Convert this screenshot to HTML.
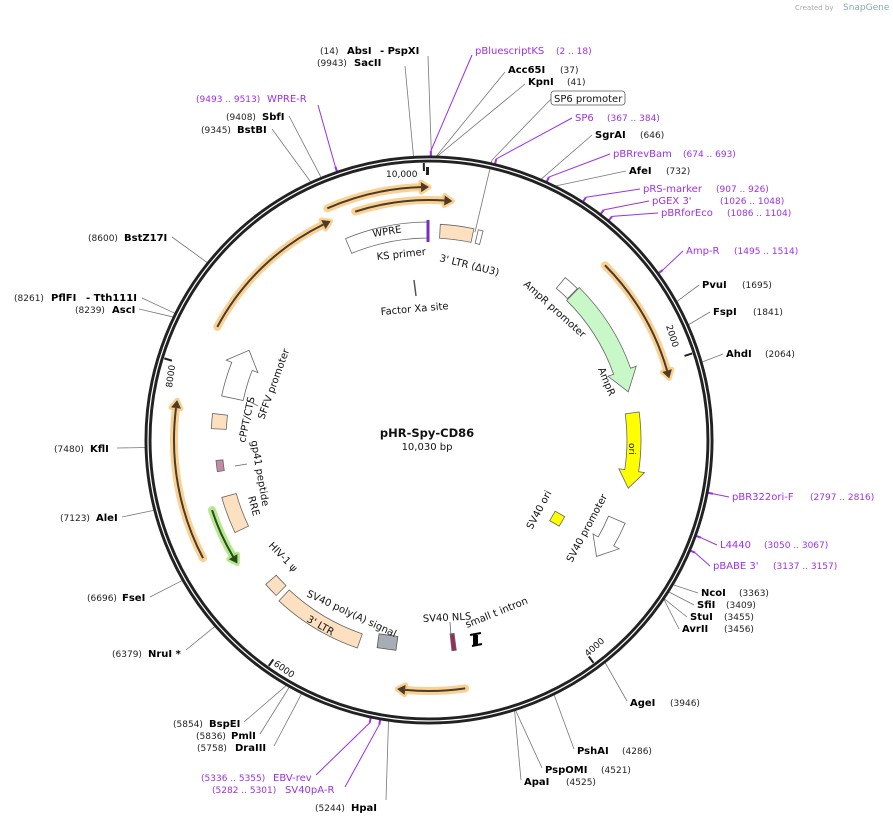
<!DOCTYPE html>
<html><head><meta charset="utf-8"><style>
html,body{margin:0;padding:0;background:#fff;width:893px;height:824px;overflow:hidden}
svg{display:block;font-family:"DejaVu Sans","Liberation Sans",sans-serif}
.b{font-weight:bold;font-size:10px;fill:#000}
.n{font-size:9px;fill:#222}
.p{font-size:10px;fill:#9b30e8}
.pn{font-size:9px;fill:#9b30e8}
.f{font-size:10px;fill:#111}
</style></head><body>
<svg id="s" width="893" height="824" viewBox="0 0 893 824" xmlns="http://www.w3.org/2000/svg">
<g id="g"></g>
<text x="795" y="10" style="font-size:7px;fill:#aaa">Created by</text><text x="843" y="10" style="font-size:9px;fill:#8aa">SnapGene</text>
<g>
<text x="320" y="54" class="n">(14)</text><text x="347" y="54" class="b">AbsI</text><text x="380" y="54" class="b">- PspXI</text>
<text x="317" y="66" class="n">(9943)</text><text x="354" y="66" class="b">SacII</text>
<text x="475" y="54" class="p">pBluescriptKS</text><text x="556" y="54" class="pn">(2 .. 18)</text>
<text x="508" y="73" class="b">Acc65I</text><text x="560" y="73" class="n">(37)</text>
<text x="528" y="85" class="b">KpnI</text><text x="567" y="85" class="n">(41)</text>
<rect x="551" y="91" width="74" height="14" rx="3" fill="#fff" stroke="#555" stroke-width="0.8"/><text x="554" y="102" class="f">SP6 promoter</text>
<text x="575" y="121" class="p">SP6</text><text x="607" y="121" class="pn">(367 .. 384)</text>
<text x="595" y="138" class="b">SgrAI</text><text x="640" y="138" class="n">(646)</text>
<text x="613" y="157" class="p">pBRrevBam</text><text x="683" y="157" class="pn">(674 .. 693)</text>
<text x="629" y="174" class="b">AfeI</text><text x="666" y="174" class="n">(732)</text>
<text x="643" y="192" class="p">pRS-marker</text><text x="716" y="192" class="pn">(907 .. 926)</text>
<text x="652" y="204" class="p">pGEX 3'</text><text x="720" y="204" class="pn">(1026 .. 1048)</text>
<text x="661" y="216" class="p">pBRforEco</text><text x="727" y="216" class="pn">(1086 .. 1104)</text>
<text x="686" y="254" class="p">Amp-R</text><text x="734" y="254" class="pn">(1495 .. 1514)</text>
<text x="702" y="288" class="b">PvuI</text><text x="742" y="288" class="n">(1695)</text>
<text x="713" y="315" class="b">FspI</text><text x="753" y="315" class="n">(1841)</text>
<text x="726" y="357" class="b">AhdI</text><text x="765" y="357" class="n">(2064)</text>
<text x="732" y="500" class="p">pBR322ori-F</text><text x="810" y="500" class="pn">(2797 .. 2816)</text>
<text x="720" y="548" class="p">L4440</text><text x="764" y="548" class="pn">(3050 .. 3067)</text>
<text x="713" y="569" class="p">pBABE 3'</text><text x="773" y="569" class="pn">(3137 .. 3157)</text>
<text x="701" y="596" class="b">NcoI</text><text x="739" y="596" class="n">(3363)</text>
<text x="697" y="608" class="b">SfiI</text><text x="726" y="608" class="n">(3409)</text>
<text x="690" y="620" class="b">StuI</text><text x="724" y="620" class="n">(3455)</text>
<text x="682" y="632" class="b">AvrII</text><text x="724" y="632" class="n">(3456)</text>
<text x="630" y="706" class="b">AgeI</text><text x="670" y="706" class="n">(3946)</text>
<text x="577" y="754" class="b">PshAI</text><text x="622" y="754" class="n">(4286)</text>
<text x="545" y="773" class="b">PspOMI</text><text x="601" y="773" class="n">(4521)</text>
<text x="524" y="785" class="b">ApaI</text><text x="566" y="785" class="n">(4525)</text>
<text x="315" y="811" class="n">(5244)</text><text x="351" y="811" class="b">HpaI</text>
<text x="212" y="793" class="pn">(5282 .. 5301)</text><text x="285" y="793" class="p">SV40pA-R</text>
<text x="201" y="781" class="pn">(5336 .. 5355)</text><text x="273" y="781" class="p">EBV-rev</text>
<text x="197" y="751" class="n">(5758)</text><text x="235" y="751" class="b">DraIII</text>
<text x="196" y="739" class="n">(5836)</text><text x="231" y="739" class="b">PmlI</text>
<text x="173" y="727" class="n">(5854)</text><text x="209" y="727" class="b">BspEI</text>
<text x="112" y="657" class="n">(6379)</text><text x="148" y="657" class="b">NruI *</text>
<text x="87" y="601" class="n">(6696)</text><text x="122" y="601" class="b">FseI</text>
<text x="60" y="521" class="n">(7123)</text><text x="96" y="521" class="b">AleI</text>
<text x="54" y="452" class="n">(7480)</text><text x="90" y="452" class="b">KflI</text>
<text x="75" y="313" class="n">(8239)</text><text x="112" y="313" class="b">AscI</text>
<text x="14" y="301" class="n">(8261)</text><text x="51" y="301" class="b">PflFI</text><text x="86" y="301" class="b">- Tth111I</text>
<text x="88" y="241" class="n">(8600)</text><text x="124" y="241" class="b">BstZ17I</text>
<text x="201" y="133" class="n">(9345)</text><text x="237" y="133" class="b">BstBI</text>
<text x="226" y="120" class="n">(9408)</text><text x="262" y="120" class="b">SbfI</text>
<text x="196" y="102" class="pn">(9493 .. 9513)</text><text x="267" y="102" class="p">WPRE-R</text>
</g>
<g class="f" style="font-size:10px">
<text x="427" y="437" text-anchor="middle" style="font-weight:bold;font-size:11.5px">pHR-Spy-CD86</text>
<text x="427" y="450" text-anchor="middle" style="font-size:10px">10,030 bp</text>
<text x="386" y="177" style="font-size:9px">10,000</text>
<text transform="translate(666,326) rotate(72)" style="font-size:9px">2000</text>
<text transform="translate(588,657) rotate(-42)" style="font-size:9px">4000</text>
<text transform="translate(273,665) rotate(35)" style="font-size:9px">6000</text>
<text transform="translate(172,388) rotate(-82)" style="font-size:9px">8000</text>
<text transform="translate(373,237) rotate(-9)">WPRE</text>
<text transform="translate(377,260) rotate(-6)">KS primer</text>
<text transform="translate(439,261) rotate(14)">3' LTR (ΔU3)</text>
<text transform="translate(381,315) rotate(-5)">Factor Xa site</text>
<text transform="translate(523,285) rotate(42)">AmpR promoter</text>
<text transform="translate(598,369) rotate(68)">AmpR</text>
<text transform="translate(629,443) rotate(90)" style="font-size:9px">ori</text>
<text transform="translate(532,530) rotate(-62)">SV40 ori</text>
<text transform="translate(572,563) rotate(-62)">SV40 promoter</text>
<text transform="translate(467,628) rotate(-22)">small t intron</text>
<text transform="translate(423,622) rotate(-3)">SV40 NLS</text>
<text transform="translate(306,596) rotate(25)">SV40 poly(A) signal</text>
<text transform="translate(306,621) rotate(30)">3' LTR</text>
<text transform="translate(268,546) rotate(46)">HIV-1 ψ</text>
<text transform="translate(248,497) rotate(75)">RRE</text>
<text transform="translate(251,441) rotate(80)">gp41 peptide</text>
<text transform="translate(245,443) rotate(-78)">cPPT/CTS</text>
<text transform="translate(264,420) rotate(-70)">SFFV promoter</text>
</g>
</svg>
<script>
(function(){
var NS="http://www.w3.org/2000/svg",g=document.getElementById("g"),CX=429,CY=440;
function pt(r,d){var a=d*Math.PI/180;return [CX+r*Math.sin(a),CY-r*Math.cos(a)];}
function A(p){return (p/10030)*360;}
function el(t,at){var e=document.createElementNS(NS,t);for(var k in at)e.setAttribute(k,at[k]);g.appendChild(e);return e;}
function arcD(r,a1,a2){var p2=pt(r,a2),l=Math.abs(a2-a1)>180?1:0,s=a2>a1?1:0;return "A"+r+" "+r+" 0 "+l+" "+s+" "+p2[0]+" "+p2[1];}
function line(x1,y1,x2,y2,c,w){el("line",{x1:x1,y1:y1,x2:x2,y2:y2,stroke:c||"#777","stroke-width":w||0.8});}
var E=[[14,428,56],[9943,405,66],[37,505,72],[41,525,84],[646,592,135],[732,626,171],[1695,699,285],[1841,710,312],[2064,723,354],[3363,698,593],[3409,694,605],[3455,687,617],[3456,679,629],[3946,627,701],[4286,574,749],[4521,542,768],[4525,521,780],[5244,386,800],[5758,274,746],[5836,260,734],[5854,244,722],[6379,186,650],[6696,150,597],[7123,122,517],[7480,117,448],[8239,139,309],[8261,142,298],[8600,172,237],[9345,272,129],[9408,289,116]];
E.forEach(function(e){var p=pt(283,A(e[0]));line(p[0],p[1],e[1],e[2],"#777",0.8);});
var P=[[10,472,55],[375,572,118],[683,610,154],[916,640,189],[1037,649,201],[1095,658,213],[1504,683,251],[2806,729,497],[3058,717,545],[3147,710,566],[5291,345,787],[5345,316,775],[9503,318,105]];
P.forEach(function(e){var a=A(e[0]),p=pt(283,a),q=pt(289,a);line(p[0],p[1],q[0],q[1],"#9b30e8",2);line(q[0],q[1],e[1],e[2],"#9b30e8",1);});
line(475,232,492,160,"#777",0.8);line(492,160,551,99,"#777",0.8);
el("circle",{cx:CX,cy:CY,r:281,fill:"none",stroke:"#222","stroke-width":7});
el("circle",{cx:CX,cy:CY,r:281,fill:"none",stroke:"#fff","stroke-width":1.2});
[10000,2000,4000,6000,8000].forEach(function(t){var a=A(t),p=pt(277,a),q=pt(269,a);line(p[0],p[1],q[0],q[1],"#222",2);});
el("rect",{x:426,y:167,width:3,height:8,fill:"#222"});
function oarrow(r,a1,a2,col,dark){var dir=a2>a1?1:-1,h=8/r*180/Math.PI,ab=a2-dir*h;
var d="M"+pt(r,a1).join(" ")+arcD(r,a1,ab);
el("path",{d:d,fill:"none",stroke:col,"stroke-width":8,"stroke-linecap":"round","stroke-opacity":0.75});
var t=pt(r,a2),b1=pt(r+5,ab),b2=pt(r-5,ab);
el("path",{d:"M"+t.join(" ")+"L"+b1.join(" ")+"L"+b2.join(" ")+"Z",fill:col,stroke:col,"stroke-width":5,"stroke-linejoin":"round","stroke-opacity":0.75});
el("path",{d:d,fill:"none",stroke:dark,"stroke-width":2});
el("path",{d:"M"+t.join(" ")+"L"+b1.join(" ")+"L"+b2.join(" ")+"Z",fill:dark});}
oarrow(253,-23.7,0,"#f8c170","#4a3c28");
oarrow(240,-17.9,5.6,"#f8c170","#4a3c28");
oarrow(240,-61.9,-24.2,"#f8c170","#4a3c28");
oarrow(255,242.4,279,"#f8c170","#4a3c28");
oarrow(248,45.2,75.6,"#f8c170","#4a3c28");
oarrow(251,171.7,187.3,"#f8c170","#4a3c28");
oarrow(228,252.1,237.2,"#9de26a","#2c4a20");
function seg(r1,r2,a1,a2,fill,st){var d="M"+pt(r2,a1).join(" ")+arcD(r2,a1,a2)+"L"+pt(r1,a2).join(" ")+arcD(r1,a2,a1)+"Z";el("path",{d:d,fill:fill,stroke:st||"#666","stroke-width":0.8});}
function barrow(r1,r2,a1,a2,hd,fill){var m=(r1+r2)/2,ab=a2-hd;var d="M"+pt(r2,a1).join(" ")+arcD(r2,a1,ab)+"L"+pt(r2+6,ab).join(" ")+"L"+pt(m,a2).join(" ")+"L"+pt(r1-6,ab).join(" ")+"L"+pt(r1,ab).join(" ")+arcD(r1,ab,a1)+"Z";el("path",{d:d,fill:fill,stroke:"#666","stroke-width":0.8});}
seg(202,218,-22.5,-0.5,"#fff");
line(428,220,428,242,"#7a2fb8",3);
seg(202,216,3,12,"#fde0c0");
seg(202,216,13.2,14.5,"#fff");
line(414,280,416,296,"#555",1.5);
seg(198,212,40,44.4,"#fff");
barrow(196,214,44.6,76.4,6,"#c8f7c8");
barrow(198,212,82.4,103.6,5,"#ffff00");
barrow(195,213,113,124.8,5,"#fff");
seg(195,212,172.6,173.8,"#9b2a5a");
seg(205,220,-161,-137,"#fde0c0");
seg(204,218,-135.5,-131.5,"#fde0c0");
seg(200,215,-115.5,-105.5,"#fde0c0");
seg(207,214,-98.5,-95.5,"#c48aa8");
seg(203,218,-87,-83,"#fde0c0");
barrow(190,212,-78,-63.5,5,"#fff");
el("rect",{x:552,y:513,width:11,height:11,fill:"#ffff00",stroke:"#666","stroke-width":0.8,transform:"rotate(30 557 518)"});
el("rect",{x:378,y:635,width:19,height:14,fill:"#a7adb5",stroke:"#555","stroke-width":0.8,transform:"rotate(8 387 642)"});
el("rect",{x:473,y:635,width:5,height:10,fill:"#000"});line(470,635,481,633,"#000",2);line(472,646,482,644,"#000",2);
line(450,622,451,636,"#666",0.8);
line(247,464,235,466,"#666",0.8);line(258,406,247,400,"#666",0.8);
})();
</script>
</body></html>
